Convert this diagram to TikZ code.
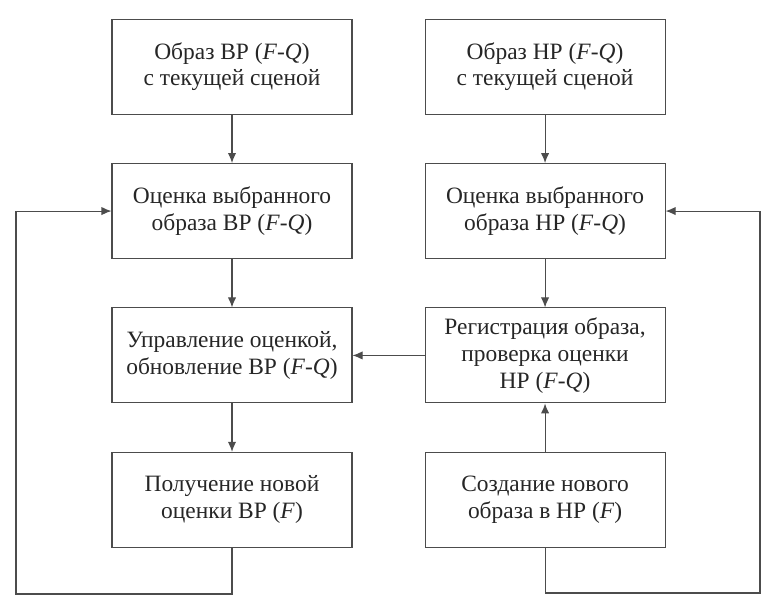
\documentclass[tikz,border=0pt]{standalone}
\usepackage{fontspec}
\setmainfont{Liberation Serif}
\usetikzlibrary{positioning,arrows.meta}

\tikzstyle{blk} = [draw, text centered, align=center, minimum width=7.2cm, minimum height=2.85cm, inner sep=0pt]
\tikzstyle{lnk} = [->, draw=black!70]

\begin{document}
\begin{tikzpicture}[
>={Latex[length=3mm,width=2.5mm]},
font=\fontsize{20}{23}\selectfont,
line width=0.9pt,
draw=black!70,
text=black!85,
]
\useasboundingbox (0,0) rectangle (23.25,18.3);

%LEFT COLUMN (VR)
\node[blk] (vr1) at (6.96,16.3) {Образ ВР (\textit{F}-\textit{Q})\\с текущей сценой};
\node[blk, below=1.45cm of vr1] (vr2) {Оценка выбранного\\образа ВР (\textit{F}-\textit{Q})};
\node[blk, below=1.45cm of vr2] (vr3) {Управление оценкой,\\обновление ВР (\textit{F}-\textit{Q})};
\node[blk, below=1.45cm of vr3] (vr4) {Получение новой\\оценки ВР (\textit{F})};

%RIGHT COLUMN (HR)
\node[blk, right=2.16cm of vr1] (hr1) {Образ НР (\textit{F}-\textit{Q})\\с текущей сценой};
\node[blk, below=1.45cm of hr1] (hr2) {Оценка выбранного\\образа НР (\textit{F}-\textit{Q})};
\node[blk, below=1.45cm of hr2] (hr3) {Регистрация образа,\\проверка оценки\\НР (\textit{F}-\textit{Q})};
\node[blk, below=1.45cm of hr3] (hr4) {Создание нового\\образа в НР (\textit{F})};

%ARROWS
\draw[lnk] (vr1) -- (vr2);
\draw[lnk] (vr2) -- (vr3);
\draw[lnk] (vr3) -- (vr4);
\draw[lnk] (hr1) -- (hr2);
\draw[lnk] (hr2) -- (hr3);
\draw[lnk] (hr4) -- (hr3);
\draw[lnk] (hr3) -- (vr3);

%LOOPS
\coordinate (lloop) at (0.48,0.48);
\coordinate (rloop) at (22.8,0.51);
\draw[lnk] (vr4.south) |- (lloop) |- (vr2.west);
\draw[lnk] (hr4.south) |- (rloop) |- (hr2.east);
\end{tikzpicture}
\end{document}
